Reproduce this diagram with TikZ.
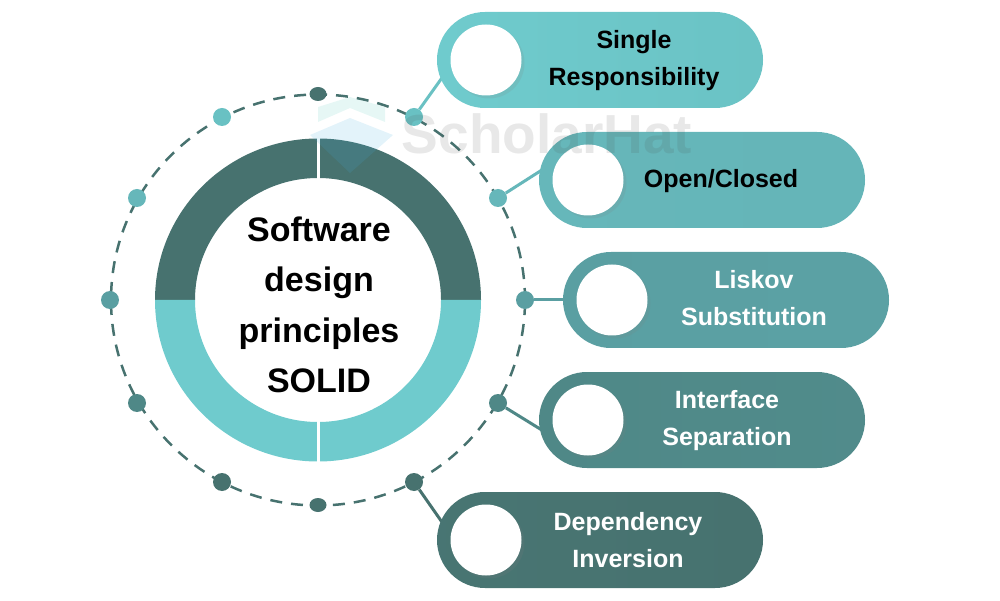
\documentclass[tikz,border=0pt]{standalone}
\usepackage{fontspec}
\setmainfont{Liberation Sans}
\usepackage{xcolor}
\usetikzlibrary{shadows, shapes.geometric}

\definecolor{tealA}{HTML}{6FCBCD}
\definecolor{tealB}{HTML}{66B7BA}
\definecolor{tealC}{HTML}{5A9FA2}
\definecolor{tealD}{HTML}{4F8887}
\definecolor{tealE}{HTML}{47726F}
\definecolor{logoblue}{RGB}{67,173,220}
\definecolor{logoteal}{RGB}{90,200,190}

\tikzset{
  pill/.style={rounded corners=48pt, minimum width=326pt, minimum height=96pt, inner sep=0pt},
  hole/.style={circle, fill=white, minimum size=71pt, inner sep=0pt,
    drop shadow={shadow xshift=3pt, shadow yshift=-3pt, opacity=.15}},
  spot/.style={circle, minimum size=18pt, inner sep=0pt},
  flatspot/.style={ellipse, minimum width=17pt, minimum height=14pt, inner sep=0pt},
  link/.style={line width=3pt},
  pilltext/.style={align=center, font=\fontsize{25}{37}\selectfont\bfseries},
}

\begin{document}
\begin{tikzpicture}[x=1pt, y=1pt]
\useasboundingbox (0,0) rectangle (1000,600);

% Dashed circle
\draw[tealE, line width=2.5pt, dash pattern=on 12pt off 9pt] (318,300) ellipse (207 and 205.5);

% Ring
\fill[tealE] (155,300) arc (180:0:163 and 161.5) -- (441,300) arc (0:180:123 and 122) -- cycle;
\fill[tealA] (155,300) arc (180:360:163 and 161.5) -- (441,300) arc (360:180:123 and 122) -- cycle;
\draw[white, line width=3pt] (318,463) -- (318,421);
\draw[white, line width=3pt] (318,179) -- (318,137);

\node[align=center, font=\fontsize{34}{50.5}\selectfont\bfseries] (title) at (319,295)
  {Software\\design\\principles\\SOLID};

% Dots on the circle
\node[flatspot, fill=tealE] (top) at (318,506) {};
\node[spot, fill=tealA!95!black] (d1) at (414,483) {};
\node[spot, fill=tealB] (d2) at (498,402) {};
\node[spot, fill=tealC] (d3) at (525,300) {};
\node[spot, fill=tealD] (d4) at (498,197) {};
\node[spot, fill=tealE] (d5) at (414,118) {};
\node[flatspot, fill=tealE] (bottom) at (318,95) {};
\node[spot, fill=tealE] (e1) at (222,118) {};
\node[spot, fill=tealD] (e2) at (137,197) {};
\node[spot, fill=tealC] (e3) at (110,300) {};
\node[spot, fill=tealB] (e4) at (137,402) {};
\node[spot, fill=tealA!95!black] (e5) at (222,483) {};

% Ends of the connectors
\coordinate (c1) at (444,525);
\coordinate (c2) at (545,432);
\coordinate (c3) at (570,300);
\coordinate (c4) at (545,168);
\coordinate (c5) at (444,75);

\draw[link, tealA!95!black] (d1) -- (c1);
\draw[link, tealB] (d2) -- (c2);
\draw[link, tealC] (d3) -- (c3);
\draw[link, tealD] (d4) -- (c4);
\draw[link, tealE] (d5) -- (c5);

% Pills
\node[pill, left color=tealA, right color=tealA!96!black] (p1) at (600,540) {};
\node[pill, left color=tealB, right color=tealB!90!tealC] (p2) at (702,420) {};
\node[pill, left color=tealC, right color=tealC!90!tealB] (p3) at (726,300) {};
\node[pill, left color=tealD, right color=tealD!85!tealC] (p4) at (702,180) {};
\node[pill, left color=tealE!85!tealD, right color=tealE] (p5) at (600,60) {};

\node[hole] (h1) at (486,540) {};
\node[hole] (h2) at (588,420) {};
\node[hole] (h3) at (612,300) {};
\node[hole] (h4) at (588,180) {};
\node[hole] (h5) at (486,60) {};

% Labels
\node[pilltext] (t1) at (634,539) {Single\\Responsibility};
\node[pilltext] (t2) at (721,419) {Open/Closed};
\node[pilltext, white] (t3) at (754,302) {Liskov\\Substitution};
\node[pilltext, white] (t4) at (727,179) {Interface\\Separation};
\node[pilltext, white] (t5) at (628,60) {Dependency\\Inversion};

% Watermark
\fill[logoteal, opacity=.15] (318,493) -- (350,503) -- (385,493) -- (385,478) -- (350,492) -- (318,478) -- cycle;
\fill[logoblue, opacity=.15] (310,465) -- (350,482) -- (393,465) -- (350,427) -- cycle;
\node[font=\fontsize{55}{60}\selectfont\bfseries, text=black!70, opacity=.13] (mark) at (547,466) {ScholarHat};
\end{tikzpicture}
\end{document}
